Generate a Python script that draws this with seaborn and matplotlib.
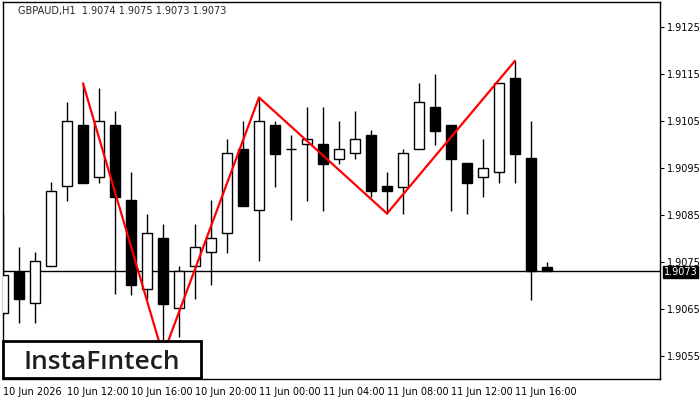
import numpy as np
import pandas as pd
import matplotlib
matplotlib.use('Agg')
import matplotlib.pyplot as plt
import matplotlib.transforms as mtransforms
from matplotlib.patches import Rectangle
import seaborn as sns

# свечи GBPAUD H1, с 10 Jun 08:00
opens = [1.90642, 1.90729, 1.90662, 1.90741, 1.90911, 1.91041, 1.90930, 1.91041, 1.90882, 1.90692,
         1.90800, 1.90651, 1.90741, 1.90771, 1.90811, 1.90990, 1.90860, 1.91041, 1.90990, 1.91000,
         1.91000, 1.90970, 1.90981, 1.91020, 1.90912, 1.90910, 1.90990, 1.91079, 1.91041, 1.90960,
         1.90930, 1.90941, 1.91141, 1.90971, 1.90740]
highs = [1.90852, 1.90781, 1.90771, 1.90920, 1.91090, 1.91130, 1.91120, 1.91071, 1.90941, 1.90852,
         1.90831, 1.90741, 1.90831, 1.90882, 1.91012, 1.91050, 1.91100, 1.91050, 1.91020, 1.91079,
         1.91079, 1.91050, 1.91071, 1.91031, 1.90941, 1.90990, 1.91131, 1.91150, 1.91041, 1.90960,
         1.91012, 1.91131, 1.91178, 1.91050, 1.90750]
lows = [1.90635, 1.90621, 1.90621, 1.90741, 1.90880, 1.90919, 1.90919, 1.90681, 1.90680, 1.90671,
        1.90552, 1.90591, 1.90671, 1.90700, 1.90770, 1.90870, 1.90751, 1.90910, 1.90839, 1.90880,
        1.90859, 1.90959, 1.90970, 1.90889, 1.90853, 1.90851, 1.90990, 1.90999, 1.90859, 1.90851,
        1.90889, 1.90919, 1.90919, 1.90670, 1.90730]
closes = [1.90722, 1.90671, 1.90751, 1.90900, 1.91049, 1.90919, 1.91049, 1.90889, 1.90700, 1.90811,
          1.90661, 1.90730, 1.90781, 1.90800, 1.90981, 1.90870, 1.91049, 1.90980, 1.90990, 1.91011,
          1.90959, 1.90990, 1.91011, 1.90900, 1.90900, 1.90981, 1.91090, 1.91029, 1.90970, 1.90919,
          1.90949, 1.91130, 1.90980, 1.90731, 1.90730]

# фигура паттерна (вершины и впадины)
pattern_idx = [5, 10, 16, 24, 32]
pattern_price = [1.91130, 1.90552, 1.91100, 1.90853, 1.91178]

last_price = 1.9073
title = 'GBPAUD,H1  1.9074 1.9075 1.9073 1.9073'

tick_idx = [0, 4, 8, 12, 16, 20, 24, 28, 32]
tick_labels = ['10 Jun 2026', '10 Jun 12:00', '10 Jun 16:00', '10 Jun 20:00', '11 Jun 00:00',
               '11 Jun 04:00', '11 Jun 08:00', '11 Jun 12:00', '11 Jun 16:00']
y_ticks = [1.9055, 1.9065, 1.9075, 1.9085, 1.9095, 1.9105, 1.9115, 1.9125]

df = pd.DataFrame({'o': opens, 'h': highs, 'l': lows, 'c': closes})
df['x'] = np.arange(len(df))
df['bottom'] = df[['o', 'c']].min(axis=1)
df['height'] = (df['c'] - df['o']).abs()
df['up'] = df['c'] >= df['o']

sns.set_style('white')
plt.rcParams['font.family'] = ['DejaVu Sans']

fig = plt.figure(figsize=(7, 4), dpi=100)
ax = fig.add_axes([2.5 / 700, 21 / 400, 657.5 / 700, 377 / 400])

# тени
ax.vlines(df['x'], df['l'], df['h'], color='black', linewidth=1, zorder=2)
# тела
ax.bar(df['x'], df['height'], bottom=df['bottom'], width=0.68,
       color=np.where(df['up'], 'white', 'black'), edgecolor='black', linewidth=1, zorder=3)

# линия текущей цены
ax.axhline(last_price, color='black', linewidth=1, zorder=1)

# паттерн
pat = pd.DataFrame({'x': pattern_idx, 'y': pattern_price})
sns.lineplot(data=pat, x='x', y='y', color='red', linewidth=1.6, sort=False, ax=ax, zorder=4)

ax.set_xlim(-0.03, 41.06)
ax.set_ylim(1.90501, 1.91303)
ax.set_xlabel('')
ax.set_ylabel('')

for s in ax.spines.values():
    s.set_visible(True)
    s.set_color('black')
    s.set_linewidth(1)

ax.yaxis.tick_right()
ax.set_yticks(y_ticks)
ax.set_yticklabels([f'{v:.4f}' for v in y_ticks])
ax.tick_params(axis='y', direction='out', length=3, width=0.8, labelsize=7, pad=2, colors='black')

ax.set_xticks(tick_idx)
ax.set_xticklabels(tick_labels)
ax.tick_params(axis='x', direction='out', length=4, width=0.8, labelsize=7, pad=2, colors='black')
for lab in ax.get_xticklabels():
    lab.set_horizontalalignment('left')

# заголовок инструмента
ax.text(0.0236, 0.976, title, transform=ax.transAxes, fontsize=7, va='center', ha='left')

# метка цены справа
trans = mtransforms.blended_transform_factory(ax.transAxes, ax.transData)
ax.text(1.006, last_price - 0.00001, f'{last_price:.4f}', transform=trans, fontsize=7, color='white',
        va='center', ha='left', clip_on=False,
        bbox=dict(boxstyle='square,pad=0.08', facecolor='black', edgecolor='black'))

# логотип
fig.patches.append(Rectangle((3 / 700, 22 / 400), 198 / 700, 37 / 400, transform=fig.transFigure,
                             facecolor='white', edgecolor='black', linewidth=2, zorder=10))
fig.text(102 / 700, 31 / 400, 'InstaFıntech', fontsize=19, color='#1e1e1e', ha='center',
         va='baseline', family=['Open Sans', 'DejaVu Sans'], fontweight='semibold', zorder=11)

fig.savefig('out.png', dpi=100)
